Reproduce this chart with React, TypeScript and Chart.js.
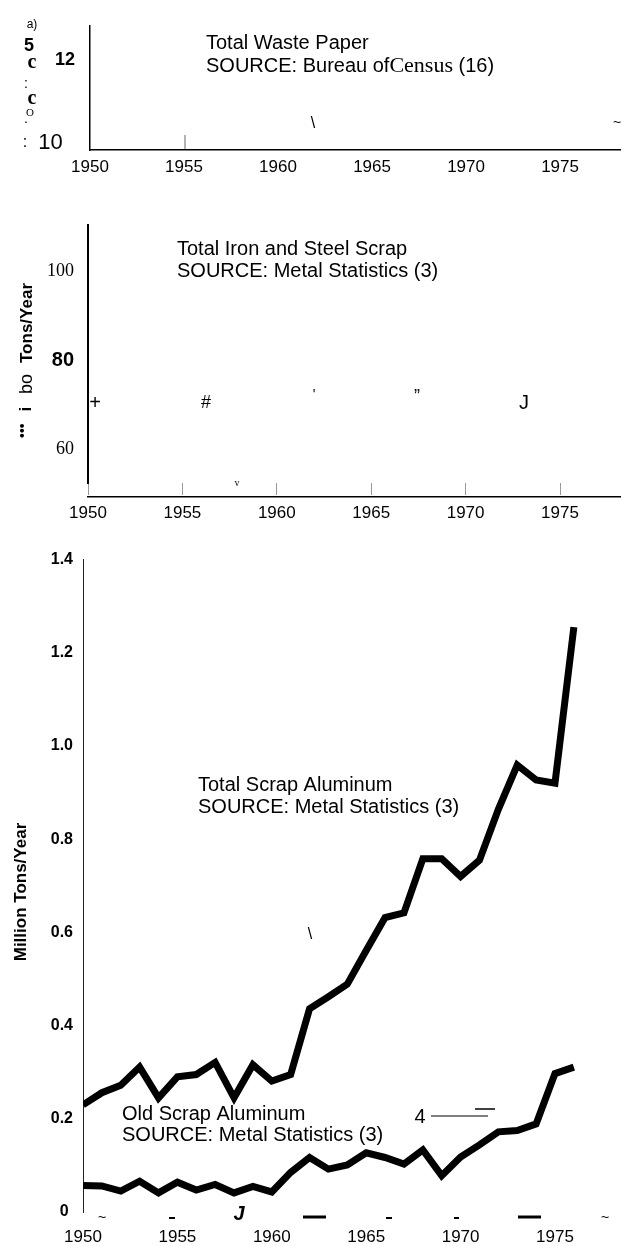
import React, { useEffect, useRef } from "react";
import { Chart, registerables } from "chart.js";

Chart.register(...registerables);

const SANS = "'Liberation Sans', Arial, Helvetica, sans-serif";
const SERIF = "'Liberation Serif', 'Times New Roman', serif";

// ---- data ----
const years = [1950, 1951, 1952, 1953, 1954, 1955, 1956, 1957, 1958, 1959, 1960, 1961, 1962, 1963, 1964, 1965, 1966, 1967, 1968, 1969, 1970, 1971, 1972, 1973, 1974, 1975, 1976];
const totalScrapAluminum = [0.23, 0.256, 0.272, 0.311, 0.245, 0.29, 0.295, 0.321, 0.245, 0.316, 0.281, 0.295, 0.436, 0.462, 0.489, 0.561, 0.632, 0.642, 0.758, 0.758, 0.72, 0.755, 0.864, 0.959, 0.927, 0.92, 1.255];
const oldScrapAluminum = [0.057, 0.056, 0.045, 0.066, 0.041, 0.064, 0.047, 0.059, 0.041, 0.055, 0.043, 0.085, 0.117, 0.092, 0.101, 0.127, 0.117, 0.103, 0.133, 0.078, 0.118, 0.144, 0.172, 0.175, 0.189, 0.297, 0.311];

const xTickYears = [1950, 1955, 1960, 1965, 1970, 1975];
const xTickLabels = ["1950", "1955", "1960", "1965", "1970", "1975"];

const paperTickValues = [10, 12];
const paperTickLabels = ["10  ", "12"];

const ironTickValues = [60, 80, 100];
const ironTickLabels = ["60", "80", "100"];

const alumTickValues = [0, 0.2, 0.4, 0.6, 0.8, 1.0, 1.2, 1.4];
const alumTickLabels = ["0 ", "0.2", "0.4", "0.6", "0.8", "1.0", "1.2", "1.4"];

// ---- helpers ----
type Item =
  | { text: string; x: number; y: number; font: string; align?: CanvasTextAlign; rot?: number; color?: string }
  | { parts: { text: string; font: string }[]; x: number; y: number; color?: string }
  | { line: [number, number, number, number]; w: number; color?: string };

function makeAnnot(items: Item[]) {
  return {
    id: "annot",
    afterDraw(chart: any) {
      const ctx: CanvasRenderingContext2D = chart.ctx;
      for (const it of items) {
        ctx.save();
        const color = (it as any).color || "#000";
        ctx.fillStyle = color;
        ctx.strokeStyle = color;
        if ("line" in it) {
          ctx.lineWidth = it.w;
          ctx.beginPath();
          ctx.moveTo(it.line[0], it.line[1]);
          ctx.lineTo(it.line[2], it.line[3]);
          ctx.stroke();
        } else if ("parts" in it) {
          ctx.textAlign = "left";
          ctx.textBaseline = "middle";
          let x = it.x;
          for (const p of it.parts) {
            ctx.font = p.font;
            ctx.fillText(p.text, x, it.y);
            x += ctx.measureText(p.text).width;
          }
        } else {
          ctx.font = it.font;
          ctx.textAlign = it.align || "center";
          ctx.textBaseline = "middle";
          ctx.translate(it.x, it.y);
          if (it.rot) ctx.rotate(it.rot);
          ctx.fillText(it.text, 0, 0);
        }
        ctx.restore();
      }
    },
  };
}

function xLabel(v: any) {
  const i = xTickYears.indexOf(Number(v));
  return i >= 0 ? xTickLabels[i] : "";
}

function xAxis(min: number, max: number, height: number, padding: number, border: any, extra: any = {}) {
  return {
    type: "linear",
    position: "bottom",
    min,
    max,
    afterBuildTicks: (s: any) => {
      s.ticks = xTickYears.map((v) => ({ value: v }));
    },
    afterFit: (s: any) => {
      s.height = height;
    },
    grid: { display: false, drawTicks: false },
    border,
    ticks: {
      padding,
      autoSkip: false,
      maxRotation: 0,
      color: "#000",
      font: { family: SANS, size: 17 },
      callback: xLabel,
    },
    ...extra,
  };
}

const baseOptions = {
  responsive: false,
  animation: false as const,
  events: [] as any[],
  plugins: { legend: { display: false }, tooltip: { enabled: false } },
};

// ---- panel 1: Total Waste Paper ----
function buildPaper() {
  const items: Item[] = [
    { text: "a)", x: 32, y: 25, font: `12px ${SANS}` },
    { text: "5", x: 29, y: 46, font: `bold 18px ${SANS}` },
    { text: "c", x: 32, y: 63, font: `bold 20px ${SERIF}` },
    { text: ":", x: 26, y: 84, font: `14px ${SANS}` },
    { text: "c", x: 32, y: 99, font: `bold 20px ${SERIF}` },
    { text: "O", x: 30, y: 113, font: `11px ${SERIF}` },
    { text: ".", x: 26, y: 119, font: `14px ${SANS}` },
    { text: ":", x: 25, y: 143, font: `16px ${SANS}` },
    { text: "Total Waste Paper", x: 206, y: 43, font: `20px ${SANS}`, align: "left" },
    {
      parts: [
        { text: "SOURCE: Bureau of", font: `20px ${SANS}` },
        { text: "Census", font: `22px ${SERIF}` },
        { text: " (16)", font: `20px ${SANS}` },
      ],
      x: 206,
      y: 66,
    },
    { line: [185, 135, 185, 149], w: 1, color: "#666" },
    { text: "\\", x: 313, y: 124, font: `16px ${SANS}` },
    { text: "~", x: 617, y: 123, font: `14px ${SANS}` },
  ];
  return {
    type: "line",
    data: { datasets: [] },
    options: {
      ...baseOptions,
      layout: { padding: { top: 10, left: 0, right: 0, bottom: 0 } },
      scales: {
        x: xAxis(1950, 1978.24, 50, 7, { display: true, color: "#000", width: 1.5 }),
        y: {
          type: "linear",
          min: 9.83,
          max: 12.81,
          afterBuildTicks: (s: any) => {
            s.ticks = paperTickValues.map((v) => ({ value: v }));
          },
          afterFit: (s: any) => {
            s.width = 90;
          },
          grid: { display: false, drawTicks: false },
          border: { display: true, color: "#000", width: 1.5 },
          ticks: {
            padding: 15,
            color: "#000",
            font: (c: any) =>
              c.tick && c.tick.value === 12
                ? { family: SANS, size: 18, weight: "bold" }
                : { family: SANS, size: 22 },
            callback: (v: any) => {
              const i = paperTickValues.indexOf(Number(v));
              return i >= 0 ? paperTickLabels[i] : "";
            },
          },
        },
      },
    },
    plugins: [makeAnnot(items)],
  };
}

// ---- panel 2: Total Iron and Steel Scrap ----
function buildIron() {
  const items: Item[] = [
    { text: "Tons/Year", x: 27, y: 163, font: `bold 17px ${SANS}`, align: "left", rot: -Math.PI / 2 },
    { text: "bo", x: 27, y: 194, font: `18px ${SANS}`, align: "left", rot: -Math.PI / 2 },
    { text: "i", x: 27, y: 209, font: `bold 16px ${SANS}`, rot: -Math.PI / 2 },
    { text: "•••", x: 23, y: 238, font: `14px ${SANS}`, align: "left", rot: -Math.PI / 2 },
    { text: "Total Iron and Steel Scrap", x: 177, y: 49, font: `20px ${SANS}`, align: "left" },
    { text: "SOURCE: Metal Statistics (3)", x: 177, y: 71, font: `20px ${SANS}`, align: "left" },
    { text: "+", x: 95, y: 203, font: `20px ${SANS}` },
    { text: "#", x: 206, y: 203, font: `18px ${SANS}` },
    { text: "'", x: 314, y: 195, font: `14px ${SANS}` },
    { text: "”", x: 417, y: 197, font: `18px ${SANS}` },
    { text: "J", x: 524, y: 203, font: `20px ${SANS}` },
    { text: "v", x: 237, y: 283, font: `10px ${SERIF}` },
  ];
  return {
    type: "line",
    data: { datasets: [] },
    options: {
      ...baseOptions,
      layout: { padding: { top: 15, left: 0, right: 0, bottom: 0 } },
      scales: {
        x: {
          type: "linear",
          position: "bottom",
          weight: 0,
          min: 1950,
          max: 1978.23,
          afterBuildTicks: (s: any) => {
            s.ticks = xTickYears.map((v) => ({ value: v }));
          },
          afterFit: (s: any) => {
            s.height = 14;
          },
          grid: { display: true, drawOnChartArea: false, drawTicks: true, tickLength: 12, color: "#999", lineWidth: 1 },
          border: { display: false },
          ticks: { display: false },
        },
        x2: xAxis(1950, 1978.23, 43, 6, { display: true, color: "#000", width: 1.5 }, { weight: 1, axis: "x" }),
        y: {
          type: "linear",
          min: 52.43,
          max: 110.38,
          afterBuildTicks: (s: any) => {
            s.ticks = ironTickValues.map((v) => ({ value: v }));
          },
          afterFit: (s: any) => {
            s.width = 88;
          },
          grid: { display: false, drawTicks: false },
          border: { display: true, color: "#000", width: 2 },
          ticks: {
            padding: 14,
            color: "#000",
            font: (c: any) =>
              c.tick && c.tick.value === 80
                ? { family: SANS, size: 20, weight: "bold" }
                : { family: SERIF, size: 18 },
            callback: (v: any) => {
              const i = ironTickValues.indexOf(Number(v));
              return i >= 0 ? ironTickLabels[i] : "";
            },
          },
        },
      },
    },
    plugins: [makeAnnot(items)],
  };
}

// ---- panel 3: Scrap Aluminum ----
function buildAlum() {
  const items: Item[] = [
    { text: "Million Tons/Year", x: 21, y: 352, font: `bold 17px ${SANS}`, rot: -Math.PI / 2 },
    { text: "Total Scrap Aluminum", x: 198, y: 245, font: `20px ${SANS}`, align: "left" },
    { text: "SOURCE: Metal Statistics (3)", x: 198, y: 267, font: `20px ${SANS}`, align: "left" },
    { text: "Old Scrap Aluminum", x: 122, y: 574, font: `20px ${SANS}`, align: "left" },
    { text: "SOURCE: Metal Statistics (3)", x: 122, y: 595, font: `20px ${SANS}`, align: "left" },
    { text: "\\", x: 310, y: 395, font: `16px ${SANS}` },
    { text: "4", x: 420, y: 577, font: `20px ${SANS}` },
    { line: [431, 576, 488, 576], w: 1 },
    { line: [475, 569, 495, 569], w: 1.5 },
    { text: "~", x: 102, y: 678, font: `14px ${SANS}` },
    { line: [169, 678, 175, 678], w: 2 },
    { text: "J", x: 239, y: 674, font: `italic bold 20px ${SANS}` },
    { line: [303, 677, 326, 677], w: 3 },
    { line: [386, 678, 392, 678], w: 2 },
    { line: [454, 678, 459, 678], w: 2 },
    { line: [518, 677, 541, 677], w: 3 },
    { text: "~", x: 605, y: 678, font: `14px ${SANS}` },
  ];
  return {
    type: "line",
    data: {
      datasets: [
        {
          label: "Total Scrap Aluminum",
          data: years.map((yr, i) => ({ x: yr, y: totalScrapAluminum[i] })),
          borderColor: "#000",
          borderWidth: 7,
          borderJoinStyle: "miter",
          borderCapStyle: "butt",
          pointRadius: 0,
          fill: false,
          tension: 0,
        },
        {
          label: "Old Scrap Aluminum",
          data: years.map((yr, i) => ({ x: yr, y: oldScrapAluminum[i] })),
          borderColor: "#000",
          borderWidth: 7,
          borderJoinStyle: "miter",
          borderCapStyle: "butt",
          pointRadius: 0,
          fill: false,
          tension: 0,
        },
      ],
    },
    options: {
      ...baseOptions,
      layout: { padding: { top: 10, left: 0, right: 9, bottom: 0 } },
      scales: {
        x: xAxis(1950, 1978.02, 34, 15, { display: false }),
        y: {
          type: "linear",
          min: 0,
          max: 1.4,
          afterBuildTicks: (s: any) => {
            s.ticks = alumTickValues.map((v) => ({ value: v }));
          },
          afterFit: (s: any) => {
            s.width = 83;
          },
          grid: { display: false, drawTicks: false },
          border: { display: true, color: "#222", width: 1 },
          ticks: {
            padding: 10,
            color: "#000",
            font: { family: SANS, size: 16, weight: "bold" },
            callback: (v: any) => {
              const i = alumTickValues.findIndex((t) => Math.abs(t - Number(v)) < 1e-6);
              return i >= 0 ? alumTickLabels[i] : "";
            },
          },
        },
      },
    },
    plugins: [makeAnnot(items)],
  };
}

function Panel({ top, height, build }: { top: number; height: number; build: () => any }) {
  const ref = useRef<HTMLCanvasElement>(null);
  useEffect(() => {
    if (!ref.current) return;
    const chart = new Chart(ref.current, build());
    return () => chart.destroy();
  }, []);
  return (
    <canvas
      ref={ref}
      width={621}
      height={height}
      style={{ position: "absolute", left: 0, top, width: 621, height, display: "block" }}
    />
  );
}

export default function App() {
  return (
    <div
      style={{
        position: "absolute",
        left: 0,
        top: 0,
        width: 621,
        height: 1246,
        background: "#fff",
        overflow: "hidden",
      }}
    >
      <Panel top={0} height={200} build={buildPaper} />
      <Panel top={200} height={340} build={buildIron} />
      <Panel top={540} height={706} build={buildAlum} />
    </div>
  );
}
